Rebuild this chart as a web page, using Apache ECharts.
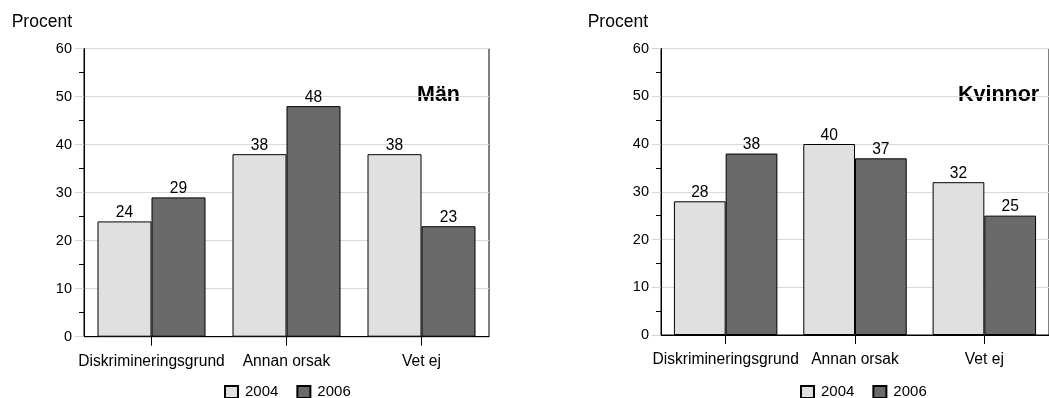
<!DOCTYPE html>
<html>
<head>
<meta charset="utf-8">
<script src="https://cdn.jsdelivr.net/npm/echarts@6/dist/echarts.min.js"></script>
<style>
  html, body { margin: 0; padding: 0; background: #fff; }
  #chart { width: 1049px; height: 398px; }
</style>
</head>
<body>
<div id="chart"></div>
<script>
// Answers by group, per cent
const categories = ['Diskrimineringsgrund', 'Annan orsak', 'Vet ej'];
const years = ['2004', '2006'];
const man2004 = [24, 38, 38];
const man2006 = [29, 48, 23];
const kvinnor2004 = [28, 40, 32];
const kvinnor2006 = [38, 37, 25];
const panelTitles = ['Män', 'Kvinnor'];
const axisName = 'Procent';
const yMin = 0, yMax = 60, yStep = 10;

const FONT = '"Liberation Sans", Arial, Helvetica, sans-serif';
const LIGHT = '#e0e0e0';
const DARK = '#6a6a6a';

const chart = echarts.init(document.getElementById('chart'), null, { renderer: 'canvas' });

const grids = [
  { left: 84, top: 48.5, width: 405, height: 288.2 },
  { left: 661, top: 48.5, width: 402, height: 286.5 }
];

function xAxis(i) {
  return {
    type: 'category', gridIndex: i, data: categories,
    axisLine: { show: true, lineStyle: { color: '#000', width: 1 } },
    axisTick: { show: true, alignWithLabel: true, length: 9, lineStyle: { color: '#000' } },
    axisLabel: { color: '#000', fontFamily: FONT, fontSize: 15.6, lineHeight: 16, margin: 16.5, interval: 0 },
    splitLine: { show: false }
  };
}

function yAxis(i, pad) {
  return {
    type: 'value', gridIndex: i, min: yMin, max: yMax, interval: yStep,
    name: axisName, nameLocation: 'end', nameGap: 26.5,
    nameTextStyle: { color: '#000', fontFamily: FONT, fontSize: 17.5, align: 'right', verticalAlign: 'middle', padding: [0, pad, 0, 0] },
    axisLine: { show: true, lineStyle: { color: '#000', width: 1 } },
    axisTick: { show: true, length: 9, lineStyle: { color: '#d4d4d4' } },
    minorTick: { show: true, splitNumber: 2, length: 5, lineStyle: { color: '#000' } },
    axisLabel: { color: '#000', fontFamily: FONT, fontSize: 14.5, margin: 12 },
    splitLine: { show: true, lineStyle: { color: '#d9d9d9', width: 1 } }
  };
}

function barSeries(name, data, color, i) {
  return {
    type: 'bar', name: name, data: data, xAxisIndex: i, yAxisIndex: i,
    barGap: '0%', barCategoryGap: '20%',
    itemStyle: { color: color, borderColor: '#000', borderWidth: 1 },
    label: { show: true, position: 'top', distance: 0.5, color: '#000', fontFamily: FONT, fontSize: 15.6, lineHeight: 16 },
    emphasis: { disabled: true },
    animation: false
  };
}

function legend(left) {
  return {
    data: years, left: left, top: 384.5, orient: 'horizontal', padding: 0,
    itemWidth: 13, itemHeight: 12, itemGap: 18,
    icon: 'rect',
    textStyle: { color: '#000', fontFamily: FONT, fontSize: 15, lineHeight: 15, padding: [0, 0, 0, 2] },
    selectedMode: false
  };
}

const option = {
  backgroundColor: '#fff',
  animation: false,
  grid: grids.map(g => Object.assign({ show: true, borderColor: '#000', borderWidth: 1, backgroundColor: 'transparent' }, g)),
  xAxis: [xAxis(0), xAxis(1)],
  yAxis: [yAxis(0, 12), yAxis(1, 13)],
  legend: [legend(224), legend(800)],
  series: [
    barSeries(years[0], man2004, LIGHT, 0),
    barSeries(years[1], man2006, DARK, 0),
    barSeries(years[0], kvinnor2004, LIGHT, 1),
    barSeries(years[1], kvinnor2006, DARK, 1)
  ],
  graphic: [
    { type: 'text', x: 417, y: 95.5, silent: true,
      style: { text: panelTitles[0], font: 'bold 21.5px ' + FONT, fill: '#000', align: 'left', verticalAlign: 'middle' } },
    { type: 'text', x: 958, y: 95.5, silent: true,
      style: { text: panelTitles[1], font: 'bold 21.5px ' + FONT, fill: '#000', align: 'left', verticalAlign: 'middle' } }
  ]
};

chart.setOption(option);
</script>
</body>
</html>
